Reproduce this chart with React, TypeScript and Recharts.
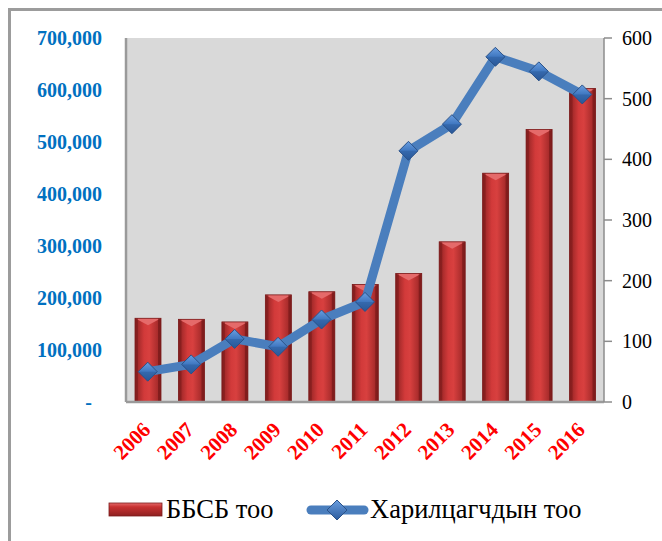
import React from "react";
import {
  ComposedChart,
  Bar,
  Line,
  XAxis,
  YAxis,
  CartesianGrid,
} from "recharts";

const years = ["2006", "2007", "2008", "2009", "2010", "2011", "2012", "2013", "2014", "2015", "2016"];
const bbsbCount = [161000, 159000, 154000, 206000, 212000, 226000, 247000, 308000, 440000, 524000, 603000];
const clientCount = [50, 62, 104, 91, 136, 165, 414, 458, 569, 545, 507];
const leftTicks = [0, 100000, 200000, 300000, 400000, 500000, 600000, 700000];
const rightTicks = [0, 100, 200, 300, 400, 500, 600];
const barName = "ББСБ тоо";
const lineName = "Харилцагчдын тоо";

const data = years.map((y, i) => ({ year: y, bbsb: bbsbCount[i], clients: clientCount[i] }));

const FONT = '"Liberation Serif", "Times New Roman", serif';

const BarShape = (props: any) => {
  const { x, y, width, height } = props;
  if (!height || height <= 0) return null;
  const bev = 7;
  return (
    <g>
      <rect x={x} y={y} width={width} height={height} fill="url(#barGrad)" />
      <polygon
        points={`${x},${y} ${x + width},${y} ${x + width / 2},${y + bev}`}
        fill="#e56a6a"
      />
      <polygon points={`${x},${y} ${x + 3},${y} ${x + 3},${y + height} ${x},${y + height}`} fill="#7c1a1a" opacity={0.6} />
      <polygon points={`${x + width - 3},${y} ${x + width},${y} ${x + width},${y + height} ${x + width - 3},${y + height}`} fill="#6e1616" opacity={0.6} />
      <rect x={x} y={y} width={width} height={height} fill="none" stroke="#7a1c1c" strokeWidth={0.8} />
    </g>
  );
};

const Diamond = (props: any) => {
  const { cx, cy } = props;
  if (cx == null || cy == null) return null;
  const r = 9.5;
  return (
    <g>
      <polygon
        points={`${cx},${cy - r} ${cx + r},${cy} ${cx},${cy + r} ${cx - r},${cy}`}
        fill="url(#diaGrad)"
        stroke="#2b5288"
        strokeWidth={1}
      />
      <polygon
        points={`${cx - r},${cy} ${cx + r},${cy} ${cx},${cy + r}`}
        fill="#24508c"
        opacity={0.35}
      />
    </g>
  );
};

const LeftTick = (props: any) => {
  const { x, y, payload } = props;
  const v = payload.value as number;
  const label = v === 0 ? "-" : v.toLocaleString("en-US");
  return (
    <text
      x={v === 0 ? x - 34 : x - 24}
      y={y}
      dy="0.35em"
      textAnchor="end"
      fill="#0070C0"
      fontFamily={FONT}
      fontWeight="bold"
      fontSize={20}
    >
      {label}
    </text>
  );
};

const RightTick = (props: any) => {
  const { x, y, payload } = props;
  return (
    <text x={x + 10} y={y} dy="0.35em" textAnchor="start" fill="#000" fontFamily={FONT} fontSize={20}>
      {payload.value}
    </text>
  );
};

const XTick = (props: any) => {
  const { x, y, payload } = props;
  return (
    <text
      transform={`translate(${x + 4},${y + 29}) rotate(-45)`}
      textAnchor="end"
      fill="#FF0000"
      fontFamily={FONT}
      fontWeight="bold"
      fontSize={21}
    >
      {payload.value}
    </text>
  );
};

export default function App() {
  return (
    <div style={{ position: "absolute", left: 0, top: 0, width: 662, height: 541, overflow: "hidden", background: "#fff" }}>
      <div
        style={{
          position: "absolute",
          left: 8,
          top: 8,
          width: 800,
          height: 700,
          borderLeft: "3px solid #9c9c9c",
          borderTop: "3px solid #9c9c9c",
        }}
      />
      <div style={{ position: "absolute", left: 0, top: 0 }}>
        <ComposedChart
          width={662}
          height={541}
          data={data}
          margin={{ top: 38, right: 0, bottom: 0, left: 0 }}
          barCategoryGap={0}
        >
          <defs>
            <linearGradient id="barGrad" x1="0" y1="0" x2="1" y2="0">
              <stop offset="0%" stopColor="#8e2222" />
              <stop offset="35%" stopColor="#d23a3a" />
              <stop offset="55%" stopColor="#d8403f" />
              <stop offset="100%" stopColor="#962424" />
            </linearGradient>
            <linearGradient id="diaGrad" x1="0" y1="0" x2="0" y2="1">
              <stop offset="0%" stopColor="#6a9ee0" />
              <stop offset="50%" stopColor="#3f77c0" />
              <stop offset="100%" stopColor="#2c5c9e" />
            </linearGradient>
          </defs>
          <CartesianGrid horizontal={false} vertical={false} fill="#d9d9d9" yAxisId="left" />
          <XAxis
            dataKey="year"
            height={139}
            tickSize={0}
            tickMargin={0}
            tick={<XTick />}
            interval={0}
            axisLine={{ stroke: "#9a9a9a", strokeWidth: 2.5 }}
            tickLine={false}
          />
          <YAxis
            yAxisId="left"
            orientation="left"
            width={126}
            domain={[0, 700000]}
            ticks={leftTicks}
            tickSize={0}
            tickMargin={0}
            tick={<LeftTick />}
            axisLine={{ stroke: "#9a9a9a", strokeWidth: 2.5 }}
            tickLine={false}
            interval={0}
          />
          <YAxis
            yAxisId="right"
            orientation="right"
            width={58}
            domain={[0, 600]}
            ticks={rightTicks}
            tickSize={8}
            tickMargin={0}
            tick={<RightTick />}
            axisLine={{ stroke: "#8c8c8c", strokeWidth: 1.5 }}
            tickLine={{ stroke: "#8c8c8c", strokeWidth: 1.5 }}
            interval={0}
          />
          <Bar
            yAxisId="left"
            dataKey="bbsb"
            name={barName}
            barSize={26}
            shape={<BarShape />}
            isAnimationActive={false}
          />
          <Line
            yAxisId="right"
            dataKey="clients"
            name={lineName}
            type="linear"
            stroke="#4a7ebd"
            strokeWidth={9}
            strokeLinejoin="round"
            dot={<Diamond />}
            activeDot={false}
            isAnimationActive={false}
          />
        </ComposedChart>
      </div>
      <svg style={{ position: "absolute", left: 0, top: 490 }} width={662} height={45}>
        <defs>
          <linearGradient id="legBarGrad" x1="0" y1="0" x2="0" y2="1">
            <stop offset="0%" stopColor="#e56a6a" />
            <stop offset="30%" stopColor="#c83232" />
            <stop offset="100%" stopColor="#8e2020" />
          </linearGradient>
          <linearGradient id="legDia" x1="0" y1="0" x2="0" y2="1">
            <stop offset="0%" stopColor="#6a9ee0" />
            <stop offset="100%" stopColor="#2c5c9e" />
          </linearGradient>
        </defs>
        <rect x={109} y={13} width={53} height={13} fill="url(#legBarGrad)" stroke="#7a1c1c" strokeWidth={0.8} />
        <text x={166} y={28} fontFamily={FONT} fontSize={26.5} fill="#000">
          {barName}
        </text>
        <line x1={311} y1={20} x2={364} y2={20} stroke="#4a7ebd" strokeWidth={9} strokeLinecap="round" />
        <polygon points="337,10 347,20 337,30 327,20" fill="url(#legDia)" stroke="#2b5288" strokeWidth={1} />
        <text x={370} y={28} fontFamily={FONT} fontSize={26.5} fill="#000">
          {lineName}
        </text>
      </svg>
    </div>
  );
}
